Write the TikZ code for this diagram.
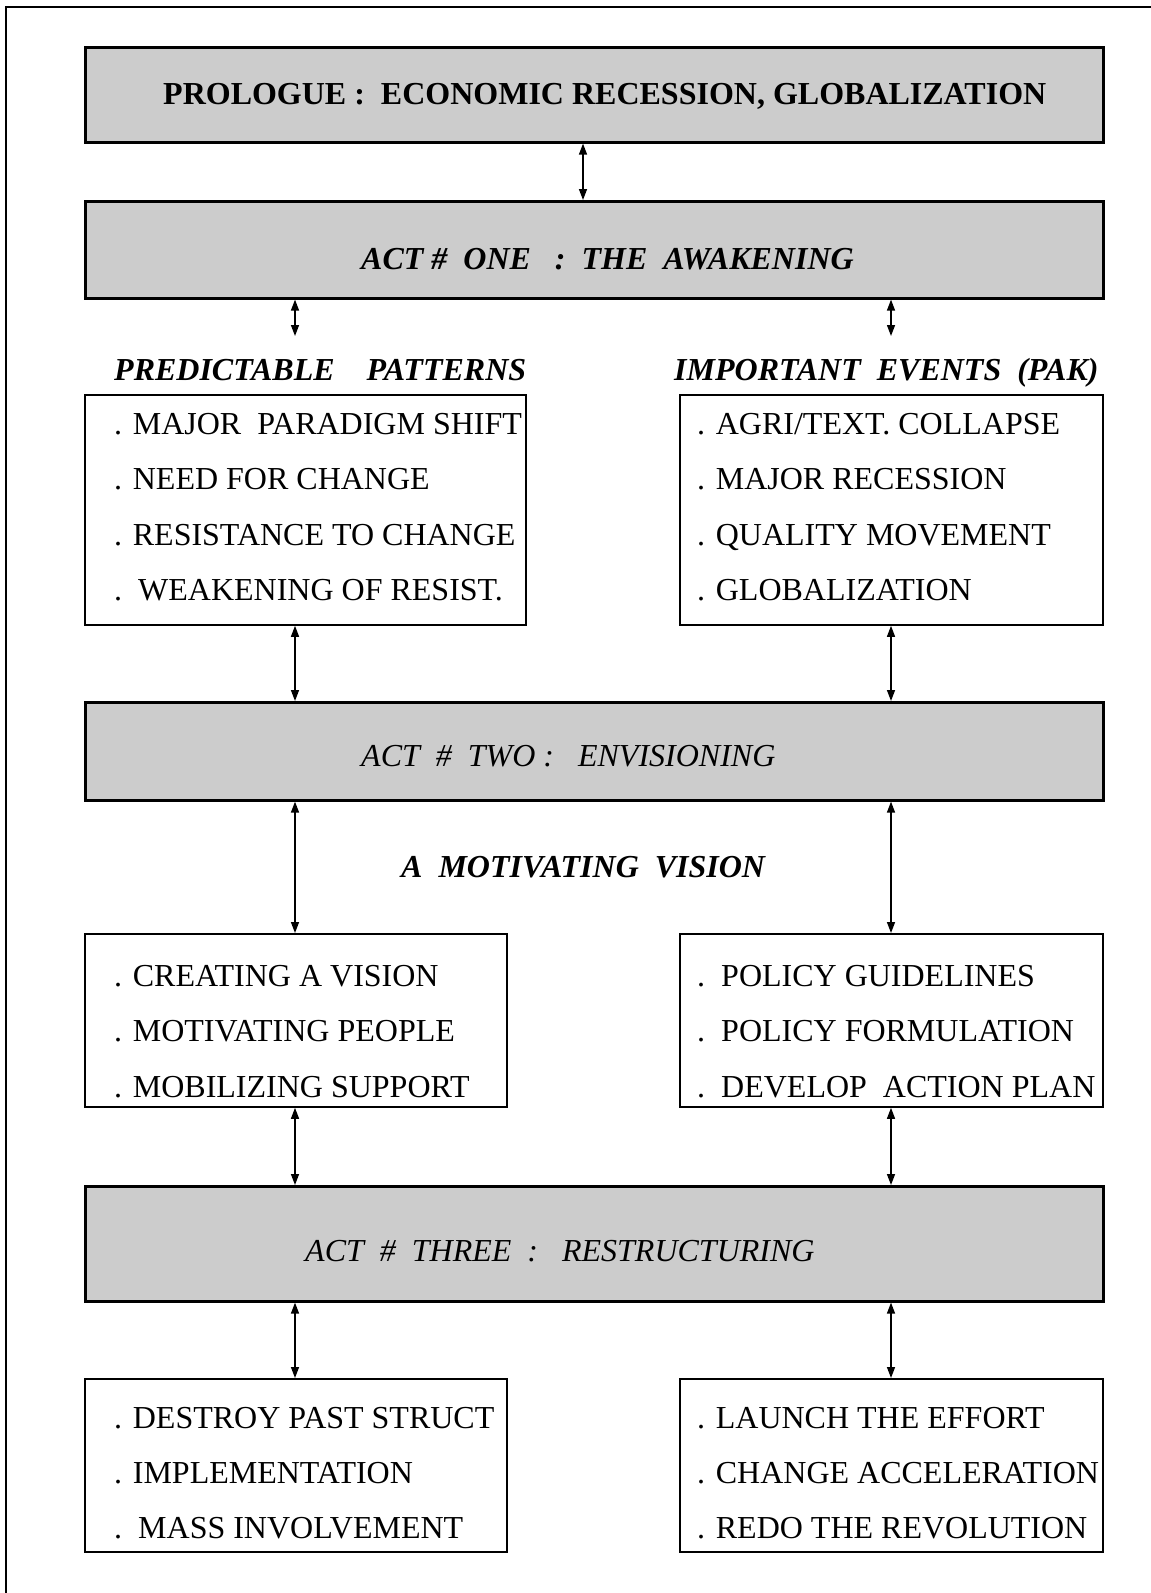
\documentclass[tikz,border=0pt]{standalone}
\usepackage{fontspec}
\setmainfont{Liberation Serif}
\usetikzlibrary{arrows.meta}
\begin{document}
\begin{tikzpicture}[x=1pt,y=-1pt,
  actbox/.style={draw, line width=2.6pt, fill=black!20, minimum width=1018pt,
    inner sep=0pt, anchor=north west},
  listbox/.style={draw, line width=1.8pt, inner sep=0pt, anchor=north west},
  txt/.style={anchor=base west, inner sep=0pt, font=\fontsize{32}{38}\selectfont},
  boldtxt/.style={txt, font=\fontsize{32}{38}\selectfont\bfseries},
  bitxt/.style={txt, font=\fontsize{32}{38}\selectfont\bfseries\itshape},
  ittxt/.style={txt, font=\fontsize{32}{38}\selectfont\itshape},
  link/.style={line width=1.4pt, {Triangle[length=11pt,width=8pt]}-{Triangle[length=11pt,width=8pt]}}
]
\useasboundingbox (0,0) rectangle (1151,1593);
% page frame (open on the right and bottom)
\draw[line width=1.8pt] (6,1593) -- (6,7) -- (1151,7);

% acts
\node[actbox, minimum height=95pt] (pro) at (84,46) {};
\node[boldtxt] (protxt) at (163,104) {PROLOGUE :\ \ ECONOMIC RECESSION, GLOBALIZATION};

\node[actbox, minimum height=97pt] (one) at (84,200) {};
\node[bitxt] (onetxt) at (361,269) {ACT\ \#\ \ ONE\ \ \ :\ \ THE\ \ AWAKENING};

\node[bitxt] (pathead) at (114,380) {PREDICTABLE\ \ \ \ PATTERNS};
\node[bitxt] (evthead) at (674,380) {IMPORTANT\ \ EVENTS\ \ (PAK)};

\node[listbox, minimum width=441pt, minimum height=230pt] (pat) at (84,394) {};
\node[txt] (p1) at (114,434) {. MAJOR\ \ PARADIGM SHIFT};
\node[txt] (p2) at (114,489) {. NEED FOR CHANGE};
\node[txt] (p3) at (114,545) {. RESISTANCE TO CHANGE};
\node[txt] (p4) at (114,600) {.\ \ WEAKENING OF RESIST.};

\node[listbox, minimum width=423pt, minimum height=230pt] (evt) at (679,394) {};
\node[txt] (e1) at (697,434) {. AGRI/TEXT. COLLAPSE};
\node[txt] (e2) at (697,489) {. MAJOR RECESSION};
\node[txt] (e3) at (697,545) {. QUALITY MOVEMENT};
\node[txt] (e4) at (697,600) {. GLOBALIZATION};

\node[actbox, minimum height=98pt] (two) at (84,701) {};
\node[ittxt] (twotxt) at (361,766) {ACT\ \ \#\ \ TWO :\ \ \ ENVISIONING};

\node[bitxt] (vision) at (401,877) {A\ \ MOTIVATING\ \ VISION};

\node[listbox, minimum width=422pt, minimum height=173pt] (vis) at (84,933) {};
\node[txt] (v1) at (114,986) {. CREATING A VISION};
\node[txt] (v2) at (114,1041) {. MOTIVATING PEOPLE};
\node[txt] (v3) at (114,1097) {. MOBILIZING SUPPORT};

\node[listbox, minimum width=423pt, minimum height=173pt] (pol) at (679,933) {};
\node[txt] (o1) at (697,986) {.\ \ POLICY GUIDELINES};
\node[txt] (o2) at (697,1041) {.\ \ POLICY FORMULATION};
\node[txt] (o3) at (697,1097) {.\ \ DEVELOP\ \ ACTION PLAN};

\node[actbox, minimum height=115pt] (three) at (84,1185) {};
\node[ittxt] (threetxt) at (305,1261) {ACT\ \ \#\ \ THREE\ \ :\ \ \ RESTRUCTURING};

\node[listbox, minimum width=422pt, minimum height=173pt] (res) at (84,1378) {};
\node[txt] (r1) at (114,1428) {. DESTROY PAST STRUCT};
\node[txt] (r2) at (114,1483) {. IMPLEMENTATION};
\node[txt] (r3) at (114,1538) {.\ \ MASS INVOLVEMENT};

\node[listbox, minimum width=423pt, minimum height=173pt] (lau) at (679,1378) {};
\node[txt] (l1) at (697,1428) {. LAUNCH THE EFFORT};
\node[txt] (l2) at (697,1483) {. CHANGE ACCELERATION};
\node[txt] (l3) at (697,1538) {. REDO THE REVOLUTION};

% connector columns
\coordinate (cx) at (583,0);
\coordinate (lx) at (295,0);
\coordinate (rx) at (891,0);
\coordinate (lend) at (295,336);
\coordinate (rend) at (891,336);

\draw[link] (pro.south -| cx) -- (one.north -| cx);
\draw[link] (one.south -| lx) -- (lend);
\draw[link] (one.south -| rx) -- (rend);
\draw[link] (pat.south -| lx) -- (two.north -| lx);
\draw[link] (evt.south -| rx) -- (two.north -| rx);
\draw[link] (two.south -| lx) -- (vis.north -| lx);
\draw[link] (two.south -| rx) -- (pol.north -| rx);
\draw[link] (vis.south -| lx) -- (three.north -| lx);
\draw[link] (pol.south -| rx) -- (three.north -| rx);
\draw[link] (three.south -| lx) -- (res.north -| lx);
\draw[link] (three.south -| rx) -- (lau.north -| rx);
\end{tikzpicture}
\end{document}
